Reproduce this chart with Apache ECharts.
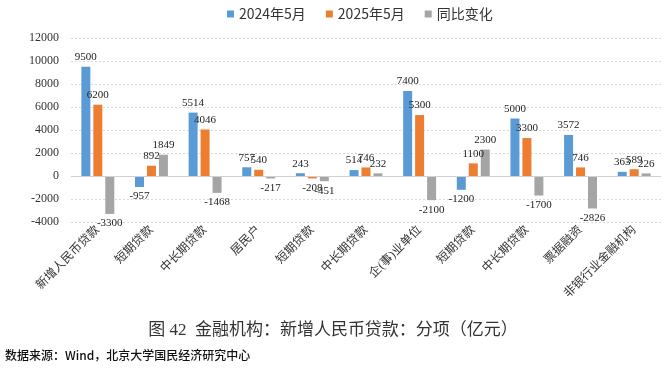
<!DOCTYPE html>
<html><head><meta charset="utf-8">
<script src="https://cdn.jsdelivr.net/npm/echarts@6/dist/echarts.min.js"></script>
<style>html,body{margin:0;padding:0;background:#fff}#c{width:666px;height:369px}</style>
</head><body><div id="c"></div>
<script>
const categories = ['新增人民币贷款','短期贷款','中长期贷款','居民户','短期贷款','中长期贷款','企(事)业单位','短期贷款','中长期贷款','票据融资','非银行业金融机构'];
const seriesNames = ['2024年5月','2025年5月','同比变化'];
const may2024 = [9500, -957, 5514, 757, 243, 514, 7400, -1200, 5000, 3572, 363];
const may2025 = [6200, 892, 4046, 540, -208, 746, 5300, 1100, 3300, 746, 589];
const yoyChange = [-3300, 1849, -1468, -217, -451, 232, -2100, 2300, -1700, -2826, 226];
const yTicks = {min: -4000, max: 12000, interval: 2000};
const colors = ['#5B9BD5', '#ED7D31', '#A5A5A5'];
const titleText = '图 42  金融机构：新增人民币贷款：分项（亿元）';
const sourceText = '数据来源：Wind，北京大学国民经济研究中心';

const serif = "'Liberation Serif','Noto Sans CJK SC',serif";
const sans = "'Noto Sans CJK SC','Liberation Sans',sans-serif";

function toItems(arr){
  return arr.map(v => ({value: v, label: {position: v < 0 ? 'bottom' : 'top'}}));
}
function mkSeries(name, arr, i){
  const s = {
    name: name, type: 'bar', data: toItems(arr),
    barWidth: 9, barGap: '33%',
    itemStyle: {color: colors[i]},
    label: {show: true, distance: 4, fontSize: 11, fontFamily: serif, color: '#222'},
    emphasis: {disabled: true}
  };
  if (i === 0) {
    s.markLine = {silent: true, symbol: 'none', label: {show: false},
      lineStyle: {color: '#d0d0d0', type: 'solid', width: 1},
      data: [{yAxis: 0}]};
  }
  return s;
}

const chart = echarts.init(document.getElementById('c'));
chart.setOption({
  animation: false,
  color: colors,
  legend: {
    data: seriesNames, left: 222, top: 2, icon: 'rect',
    itemWidth: 7, itemHeight: 7, itemGap: 20,
    textStyle: {fontSize: 14, color: '#333', fontFamily: sans}
  },
  grid: {left: 71, right: 5, top: 38, bottom: 147},
  xAxis: {
    type: 'category', data: categories,
    axisLine: {show: false, onZero: false}, axisTick: {show: false},
    axisLabel: {rotate: 45, interval: 0, margin: 6, fontSize: 12, color: '#333', fontFamily: serif}
  },
  yAxis: {
    type: 'value', min: yTicks.min, max: yTicks.max, interval: yTicks.interval,
    axisLine: {show: false}, axisTick: {show: false},
    axisLabel: {fontSize: 12, color: '#333', fontFamily: serif, margin: 12, formatter: v => String(v)},
    splitLine: {lineStyle: {color: '#d9d9d9', type: [2, 2]}}
  },
  series: [mkSeries(seriesNames[0], may2024, 0), mkSeries(seriesNames[1], may2025, 1), mkSeries(seriesNames[2], yoyChange, 2)],
  graphic: [
    {type: 'text', left: 'center', top: 322, style: {text: titleText, fontSize: 17, fill: '#333', fontFamily: serif}},
    {type: 'text', left: 5, top: 349, style: {text: sourceText, fontSize: 12, fontWeight: 500, fill: '#111', fontFamily: sans}}
  ]
});
</script></body></html>
